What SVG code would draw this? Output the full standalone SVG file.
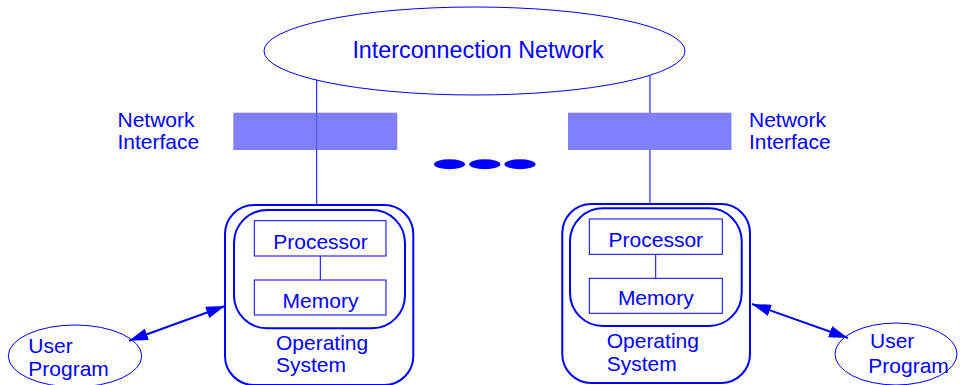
<svg xmlns="http://www.w3.org/2000/svg" width="960" height="385" viewBox="0 0 960 385">
  <style>
    text { font-family: "Liberation Sans", Arial, sans-serif; fill: #0000ff; font-size: 21px; }
    .title { font-size: 23.3px; }
    .thin { fill: none; stroke: #0000ff; stroke-width: 1; }
    .os { fill: none; stroke: #0000ff; stroke-width: 2; }
    .nic { fill: #8080ff; stroke: none; }
    .arrow { fill: none; stroke: #0000ff; stroke-width: 2; }
  </style>
  <defs>
    <marker id="head" viewBox="0 0 19 12" refX="19" refY="6" markerWidth="19" markerHeight="12" markerUnits="userSpaceOnUse" orient="auto-start-reverse">
      <path d="M0,0 L19,6 L0,12 Z" fill="#0000ff"/>
    </marker>
  </defs>
  <rect width="960" height="385" fill="#ffffff"/>

  <g id="connectors">
    <line class="thin" x1="316.7" y1="80" x2="316.7" y2="206"/>
    <line class="thin" x1="650" y1="75" x2="650" y2="205"/>
    <line class="thin" x1="320.3" y1="256" x2="320.3" y2="280"/>
    <line class="thin" x1="655.7" y1="254.3" x2="655.7" y2="278.3"/>
    <line class="arrow" x1="129" y1="340.7" x2="225" y2="306" marker-start="url(#head)" marker-end="url(#head)"/>
    <line class="arrow" x1="752" y1="304" x2="848" y2="338" marker-start="url(#head)" marker-end="url(#head)"/>
  </g>

  <g id="network">
    <ellipse class="thin" cx="474.5" cy="51" rx="210.5" ry="44" fill="#ffffff"/>
    <text class="title" x="478" y="58" text-anchor="middle">Interconnection Network</text>
  </g>

  <g id="nic-left">
    <rect class="nic" x="233.3" y="112.7" width="164" height="37.3"/>
    <line class="thin" x1="316.7" y1="112.7" x2="316.7" y2="150" stroke-opacity="0.4"/>
    <text x="117.5" y="126.5">Network</text>
    <text x="117.5" y="149">Interface</text>
  </g>

  <g id="nic-right">
    <rect class="nic" x="568" y="112.7" width="163.5" height="37.3"/>
    <text x="749" y="126.5">Network</text>
    <text x="749" y="149">Interface</text>
  </g>

  <g id="ellipsis">
    <ellipse cx="449.5" cy="164.3" rx="15.5" ry="5" fill="#0000ff"/>
    <ellipse cx="484.8" cy="164.3" rx="15.5" ry="5" fill="#0000ff"/>
    <ellipse cx="520" cy="164.3" rx="15.5" ry="5" fill="#0000ff"/>
  </g>

  <g id="node-left">
    <rect class="os" x="225" y="205" width="188.3" height="180" rx="29" ry="29"/>
    <rect class="os" x="234" y="210" width="171" height="118.3" rx="33" ry="33"/>
    <rect class="thin" x="254.3" y="220.7" width="131.7" height="35.3"/>
    <text x="320.5" y="249" text-anchor="middle">Processor</text>
    <rect class="thin" x="254.3" y="280" width="131.7" height="35"/>
    <text x="320.5" y="307.5" text-anchor="middle">Memory</text>
    <text x="276" y="350">Operating</text>
    <text x="276" y="371.5">System</text>
  </g>

  <g id="node-right">
    <rect class="os" x="562.3" y="204" width="187.7" height="179" rx="29" ry="29"/>
    <rect class="os" x="570" y="208.3" width="171.7" height="117.7" rx="33" ry="33"/>
    <rect class="thin" x="589.3" y="219" width="133" height="35.3"/>
    <text x="655.8" y="246.7" text-anchor="middle">Processor</text>
    <rect class="thin" x="589.3" y="278.3" width="133" height="35"/>
    <text x="655.8" y="305" text-anchor="middle">Memory</text>
    <text x="606.7" y="348.3">Operating</text>
    <text x="606.7" y="371">System</text>
  </g>

  <g id="user-left">
    <ellipse class="thin" cx="75" cy="356" rx="66.7" ry="31"/>
    <text x="28.3" y="352.7">User</text>
    <text x="28.3" y="376">Program</text>
  </g>

  <g id="user-right">
    <ellipse class="thin" cx="896" cy="354" rx="61" ry="31"/>
    <text x="870" y="348.3">User</text>
    <text x="868.3" y="373.3">Program</text>
  </g>
</svg>
